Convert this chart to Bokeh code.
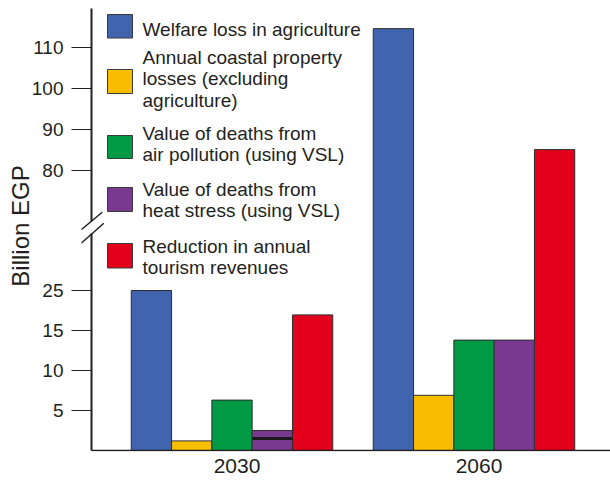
import numpy as np
from bokeh.plotting import figure
from bokeh.models import FixedTicker, Range1d
from bokeh.core.properties import value
from bokeh.embed import file_html
from bokeh.resources import INLINE

# ---------------- data ----------------
years = ["2030", "2060"]
legend_lines = [
    ["Welfare loss in agriculture"],
    ["Annual coastal property", "losses (excluding", "agriculture)"],
    ["Value of deaths from", "air pollution (using VSL)"],
    ["Value of deaths from", "heat stress (using VSL)"],
    ["Reduction in annual", "tourism revenues"],
]
colors = ["#4064ae", "#f8bc00", "#009944", "#7a3990", "#e2001a"]
welfare = [25, 114.6]
coastal = [1.2, 6.9]
air = [6.3, 13.8]
heat = [2.5, 13.8]
tourism = [18.9, 85.1]
heat_marker_2030 = 1.5
y_tick_values = [5, 10, 15, 25, 80, 90, 100, 110]
y_tick_labels = ["5", "10", "15", "25", "80", "90", "100", "110"]
y_title = "Billion EGP"

# broken (piecewise) value scale
brk_val = [0, 15, 25, 80, 130]
brk_disp = [0, 15, 20, 35, 60.625]


def disp(v):
    return np.interp(v, brk_val, brk_disp)


# ---------------- layout helpers (pixel -> data) ----------------
G0, PPG = 231.5, 242.0     # pixel of group 0, pixels per group
BASE, PPD = 450.0, 8.0     # baseline pixel, pixels per display unit


def X(px):
    return (px - G0) / PPG


def Y(py):
    return (BASE - py) / PPD


FRAME_L, FRAME_R, FRAME_T, FRAME_B = 81, 610, 0, 451
INK = "#231f20"
FONT = "Liberation Sans"

p = figure(width=610, height=481, output_backend="svg", toolbar_location=None,
           x_range=Range1d(X(FRAME_L), X(FRAME_R)), y_range=Range1d(Y(FRAME_B), Y(FRAME_T)),
           min_border_left=FRAME_L, min_border_right=0, min_border_top=0,
           min_border_bottom=481 - FRAME_B)
p.outline_line_color = None
p.xgrid.visible = False
p.ygrid.visible = False
p.background_fill_color = "white"

series = [welfare, coastal, air, heat, tourism]
bw = 40.3 / PPG
for i, vals in enumerate(series):
    xs = [g + (i - 2) * bw for g in range(len(years))]
    p.vbar(x=xs, width=bw, bottom=0, top=list(disp(vals)),
           fill_color=colors[i], line_color="#2e2e2e", line_width=1)

# black marker inside 2030 heat-stress bar
xm = 0 + 1 * bw
p.segment(x0=[xm - bw / 2], x1=[xm + bw / 2], y0=[float(disp(heat_marker_2030))],
          y1=[float(disp(heat_marker_2030))], line_color="#1c1a1e", line_width=3)

# axes lines (with break on y)
p.segment(x0=[X(91), X(91)], x1=[X(91), X(91)], y0=[Y(8), Y(233)], y1=[Y(221), Y(450)],
          line_color=INK, line_width=2)
p.segment(x0=[X(91)], x1=[X(FRAME_R)], y0=[0], y1=[0], line_color=INK, line_width=1.5)
# break slashes
p.segment(x0=[X(80.7), X(80.7)], y0=[Y(229.3), Y(242.7)],
          x1=[X(101.7), X(103.3)], y1=[Y(211.7), Y(222.7)], line_color=INK, line_width=1.5)

# legend (manual)
sq_rows = [(14, 37.5), (69, 93), (135, 158), (187, 211), (243, 267.5)]
line_centers = [[28.5], [56.5, 78, 99.5], [132.5, 154], [188.5, 210], [245.5, 267]]
p.quad(left=[X(107)] * 5, right=[X(132)] * 5,
       top=[Y(a) for a, b in sq_rows], bottom=[Y(b) for a, b in sq_rows],
       fill_color=colors, line_color="#3a3a3a", line_width=1)
tx, ty, tt = [], [], []
for lines, cs in zip(legend_lines, line_centers):
    for ln, c in zip(lines, cs):
        tx.append(X(142))
        ty.append(Y(c))
        tt.append(ln)
p.text(x=tx, y=ty, text=tt, text_font=value(FONT), text_font_size="19px",
       text_color=INK, text_baseline="middle", text_align="left")

# y axis
yt = [float(v) for v in disp(y_tick_values)]
p.yaxis.ticker = FixedTicker(ticks=yt)
p.yaxis.major_label_overrides = {t: lab for t, lab in zip(yt, y_tick_labels)}
p.yaxis.axis_line_color = None
p.yaxis.major_tick_out = 10
p.yaxis.major_tick_in = 10
p.yaxis.major_tick_line_color = INK
p.yaxis.major_tick_line_width = 1.2
p.yaxis.minor_tick_line_color = None
p.yaxis.major_label_standoff = 8
p.yaxis.major_label_text_font = FONT
p.yaxis.major_label_text_font_size = "19px"
p.yaxis.major_label_text_color = INK
p.yaxis.axis_label = y_title
p.yaxis.axis_label_text_font = FONT
p.yaxis.axis_label_text_font_size = "24px"
p.yaxis.axis_label_text_font_style = "normal"
p.yaxis.axis_label_text_color = INK
p.yaxis.axis_label_standoff = -5

# x axis
xt = [g + 5 / PPG for g in range(len(years))]
p.xaxis.ticker = FixedTicker(ticks=xt)
p.xaxis.major_label_overrides = {t: lab for t, lab in zip(xt, years)}
p.xaxis.axis_line_color = None
p.xaxis.major_tick_out = 0
p.xaxis.major_tick_in = 0
p.xaxis.minor_tick_line_color = None
p.xaxis.major_label_standoff = 7
p.xaxis.major_label_text_font = FONT
p.xaxis.major_label_text_font_size = "21px"
p.xaxis.major_label_text_color = INK

open("out.html", "w").write(file_html(p, INLINE))
